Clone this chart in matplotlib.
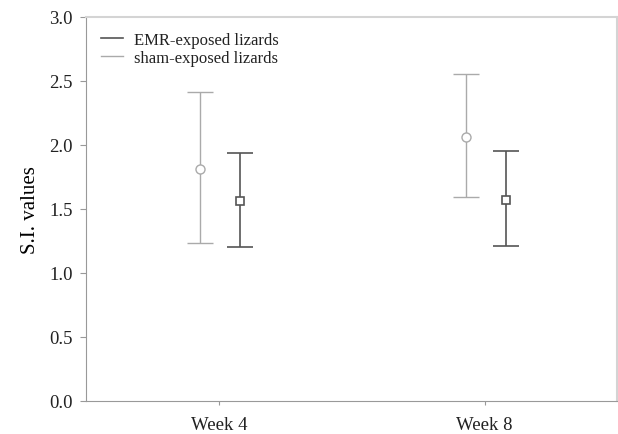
import numpy as np
import matplotlib.pyplot as plt
from matplotlib.lines import Line2D

plt.rcParams['font.family'] = ['Liberation Serif', 'DejaVu Serif']
plt.rcParams['text.color'] = "#222222"
plt.rcParams['xtick.labelcolor'] = "#222222"
plt.rcParams['ytick.labelcolor'] = "#222222"

weeks = ["Week 4", "Week 8"]
emr_mean = [1.56, 1.57]
emr_upper = [1.94, 1.95]
emr_lower = [1.20, 1.21]
sham_mean = [1.81, 2.06]
sham_upper = [2.41, 2.55]
sham_lower = [1.23, 1.59]

x = np.arange(1, len(weeks) + 1)
emr_mean = np.array(emr_mean)
sham_mean = np.array(sham_mean)
emr_err = [emr_mean - np.array(emr_lower), np.array(emr_upper) - emr_mean]
sham_err = [sham_mean - np.array(sham_lower), np.array(sham_upper) - sham_mean]

dark = "#555555"
light = "#aaaaaa"

fig = plt.figure(figsize=(6.18, 4.35), dpi=100)
ax = fig.add_axes([0.139, 0.076, 0.86, 0.883])

ax.errorbar(x + 0.08, emr_mean, yerr=emr_err, fmt="s", color=dark,
            mfc="white", mec=dark, ms=6, mew=1.2, elinewidth=1.2,
            capsize=9.5, capthick=1.2, label="EMR-exposed lizards")
ax.errorbar(x - 0.07, sham_mean, yerr=sham_err, fmt="o", color=light,
            mfc="white", mec=light, ms=6.5, mew=1.0, elinewidth=1.0,
            capsize=9.5, capthick=1.0, label="sham-exposed lizards")

ax.set_xlim(0.5, 2.5)
ax.set_ylim(0, 3.0)
ax.set_xticks(x)
ax.set_xticklabels(weeks)
ax.set_yticks(np.arange(0, 3.01, 0.5))
ax.set_yticklabels([f"{v:.1f}" for v in np.arange(0, 3.01, 0.5)])
ax.set_ylabel("S.I. values", fontsize=15, labelpad=7)
ax.tick_params(labelsize=13.5, color="#999999", width=0.8)
ax.tick_params(axis="y", length=4.3, pad=5)
ax.tick_params(axis="x", length=3, pad=8)

for side in ["left", "bottom"]:
    ax.spines[side].set_color("#999999")
for side in ["top", "right"]:
    ax.spines[side].set_color("#d4d4d4")
    ax.spines[side].set_linewidth(1.5)

labels = ["EMR-exposed lizards", "sham-exposed lizards"]
handles = [Line2D([], [], color=dark, lw=1.2), Line2D([], [], color=light, lw=1.0)]
ax.legend(handles, labels, loc="upper left", frameon=False, fontsize=12,
          handlelength=1.3, handletextpad=0.7, labelspacing=0.12,
          bbox_to_anchor=(0.0, 1.0), borderaxespad=0.5)

fig.savefig("out.png", dpi=100)
